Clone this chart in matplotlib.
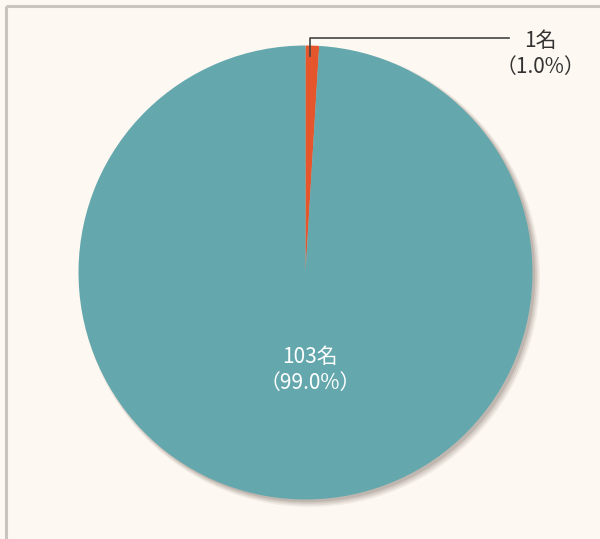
import matplotlib.pyplot as plt
from matplotlib.patches import Circle

plt.rcParams['font.family'] = ['Noto Sans CJK JP', 'DejaVu Sans']

# data
counts = [1, 103]
shares = [1.0, 99.0]
labels = ['1名\n（1.0%）', '103名\n（99.0%）']
colors = ['#e5562c', '#64a8ae']

BG = '#fdf8f1'
W, H = 600, 539
cx, cy, r = 305.5, 539 - 272.5, 227

fig = plt.figure(figsize=(6, 5.39), dpi=100, facecolor=BG)
ax = fig.add_axes([0, 0, 1, 1])
ax.set_xlim(0, W)
ax.set_ylim(0, H)
ax.set_aspect('equal')
ax.axis('off')

# frame lines (top and left)
ax.plot([5.5, W], [H - 5.5, H - 5.5], color='#c8c4c0', lw=2.2, solid_capstyle='butt')
ax.plot([5.5, 5.5], [0, H - 5.5], color='#c8c4c0', lw=2.2, solid_capstyle='butt')

# soft shadow
for i, a in enumerate([0.10, 0.14, 0.18, 0.25]):
    ax.add_patch(Circle((cx + 4.5 - i * 0.6, cy - 4.5 + i * 0.6), r + 3 - i, color='#8a7f76',
                        alpha=a, lw=0, zorder=1))

wedges, _ = ax.pie(counts, colors=colors, startangle=90, counterclock=False,
                   center=(cx, cy), radius=r, frame=True,
                   wedgeprops=dict(linewidth=0, zorder=2))
ax.set_xlim(0, W)
ax.set_ylim(0, H)
ax.axis('off')

# leader line for small slice
ax.plot([310, 310, 509], [H - 56, H - 38, H - 38], color='#444444', lw=1.2, zorder=3)
ax.text(540, H - 54, labels[0], ha='center', va='center', fontsize=15,
        color='#333333', linespacing=1.2, zorder=4)

ax.text(310, H - 370, labels[1], ha='center', va='center', fontsize=15,
        color='white', linespacing=1.2, zorder=4)

fig.savefig('out.png', dpi=100, facecolor=BG)
